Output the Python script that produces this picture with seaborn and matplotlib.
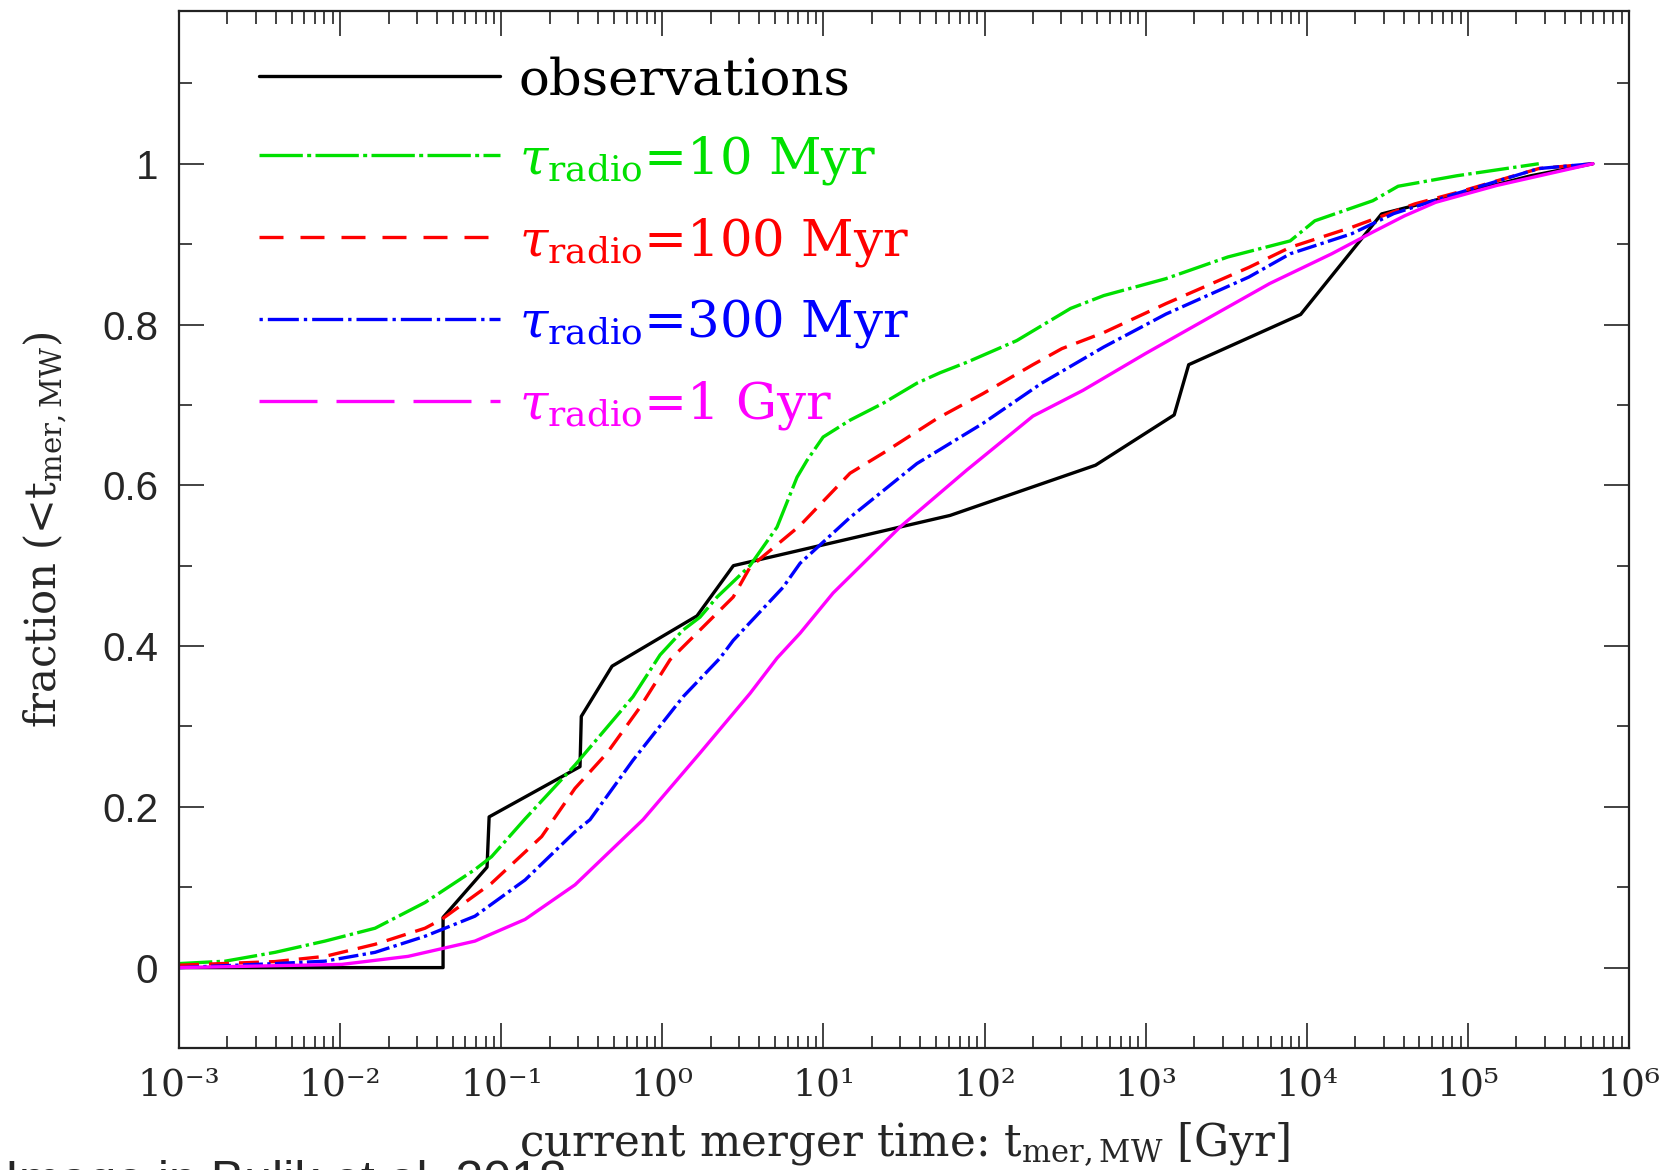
import numpy as np
import matplotlib
matplotlib.use("Agg")
import matplotlib.pyplot as plt
from matplotlib.lines import Line2D
from matplotlib.ticker import LogLocator, MultipleLocator, NullFormatter
import seaborn as sns

# Cumulative fraction vs current merger time.
# x values are stored as log10(t_mer / Gyr)
obs_logt = [-3.0, -1.361, -1.361, -1.088, -1.075, -0.511, -0.503, -0.312, 0.215,
            0.441, 1.786, 2.689, 3.177, 3.267, 3.962, 4.464, 4.59, 5.39, 5.776]
obs_frac = [0.0, 0.0, 0.0625, 0.125, 0.1875, 0.25, 0.3125, 0.375, 0.4375,
            0.5, 0.5625, 0.625, 0.6875, 0.75, 0.8125, 0.9375, 0.944, 0.985, 1.0]

r10_logt = [-3.0, -2.714, -2.404, -2.094, -1.783, -1.473, -1.163, -1.06, -0.852,
            -0.542, -0.182, -0.014, 0.129, 0.234, 0.34, 0.544, 0.712, 0.836, 0.898,
            0.998, 1.165, 1.37, 1.58, 1.724, 1.89, 2.20, 2.534, 2.74, 3.125, 3.51,
            3.897, 4.05, 4.41, 4.567, 4.93, 5.44]
r10_frac = [0.005, 0.008, 0.019, 0.033, 0.049, 0.081, 0.122, 0.138, 0.185,
            0.252, 0.337, 0.389, 0.42, 0.436, 0.461, 0.50, 0.548, 0.61, 0.631,
            0.66, 0.681, 0.702, 0.727, 0.74, 0.753, 0.78, 0.82, 0.836, 0.857, 0.884,
            0.904, 0.929, 0.954, 0.972, 0.985, 1.0]

r100_logt = [-3.0, -2.404, -2.094, -1.783, -1.473, -1.37, -1.06, -0.749, -0.542,
             -0.343, -0.138, 0.048, 0.234, 0.44, 0.544, 0.855, 1.165, 1.37, 1.705,
             1.99, 2.30, 2.48, 2.74, 3.126, 3.64, 3.897, 4.28, 4.67, 4.93, 5.44, 5.776]
r100_frac = [0.003, 0.0075, 0.014, 0.029, 0.049, 0.06, 0.105, 0.163, 0.223,
             0.267, 0.324, 0.383, 0.42, 0.461, 0.498, 0.55, 0.615, 0.64, 0.683,
             0.714, 0.75, 0.77, 0.79, 0.826, 0.871, 0.896, 0.921, 0.950, 0.964, 0.994, 1.0]

r300_logt = [-3.0, -2.404, -2.094, -1.783, -1.473, -1.163, -0.852, -0.542, -0.449,
             -0.182, 0.129, 0.358, 0.44, 0.749, 0.855, 1.165, 1.58, 1.99, 2.354,
             2.74, 3.126, 3.64, 3.897, 4.28, 4.54, 4.93, 5.44, 5.776]
r300_frac = [0.0, 0.005, 0.008, 0.019, 0.039, 0.064, 0.109, 0.169, 0.184,
             0.258, 0.337, 0.385, 0.407, 0.473, 0.503, 0.56, 0.627, 0.677, 0.727,
             0.772, 0.813, 0.859, 0.888, 0.913, 0.938, 0.963, 0.994, 1.0]

r1g_logt = [-3.0, -1.99, -1.578, -1.163, -0.852, -0.542, -0.12, 0.234, 0.544,
            0.712, 0.855, 1.06, 1.475, 1.89, 2.30, 2.61, 3.0, 3.38, 3.77, 4.155,
            4.41, 4.605, 4.80, 5.18, 5.776]
r1g_frac = [0.0, 0.004, 0.014, 0.033, 0.06, 0.103, 0.184, 0.267, 0.341,
            0.385, 0.416, 0.466, 0.548, 0.619, 0.686, 0.718, 0.764, 0.807, 0.851, 0.888,
            0.915, 0.935, 0.952, 0.973, 1.0]

labels = ["observations",
          r"$\tau_{\rm radio}$=10 Myr",
          r"$\tau_{\rm radio}$=100 Myr",
          r"$\tau_{\rm radio}$=300 Myr",
          r"$\tau_{\rm radio}$=1 Gyr"]
colors = ["black", "#00e000", "#ff0000", "#0000ff", "#ff00ff"]

xtick_vals = [1e-3, 1e-2, 1e-1, 1e0, 1e1, 1e2, 1e3, 1e4, 1e5, 1e6]
xtick_labels = ["10⁻³", "10⁻²", "10⁻¹", "10⁰", "10¹", "10²", "10³", "10⁴", "10⁵", "10⁶"]
ytick_vals = [0, 0.2, 0.4, 0.6, 0.8, 1.0]
ytick_labels = ["0", "0.2", "0.4", "0.6", "0.8", "1"]

# line patterns (in linewidth units): plot lines / legend handles
plot_styles = ["-", (0, (10, 1.3, 1, 1.3)), (0, (6, 3)), (0, (6, 1.3, 1, 1.3)), "-"]
legend_styles = ["-", (0, (13, 1.3, 1.2, 1.3)), (0, (7.2, 5.1)),
                 (0, (1, 1.5, 9.3, 1.5)), (0, (17.4, 5.7))]

sns.set_style("ticks")
plt.rcParams["font.family"] = ["DejaVu Serif"]
plt.rcParams["mathtext.fontset"] = "dejavuserif"

fig = plt.figure(figsize=(16.72, 11.70), dpi=100)
ax = fig.add_axes([179 / 1672, 1 - 1048 / 1170, 1450 / 1672, 1037 / 1170])
ax.set_xscale("log")

series = [(obs_logt, obs_frac), (r10_logt, r10_frac), (r100_logt, r100_frac),
          (r300_logt, r300_frac), (r1g_logt, r1g_frac)]
lw = 2.4
for (logt, frac), c, ls in zip(series, colors, plot_styles):
    sns.lineplot(x=10 ** np.array(logt), y=frac, ax=ax, color=c, linestyle=ls,
                 lw=lw, sort=False, estimator=None)

ax.set_xlim(1e-3, 1e6)
ax.set_ylim(-0.1, 1.19)

# ticks
ax.set_xticks(xtick_vals, xtick_labels)
ax.xaxis.set_minor_locator(LogLocator(base=10, subs=np.arange(2, 10), numticks=100))
ax.xaxis.set_minor_formatter(NullFormatter())
ax.set_yticks(ytick_vals, ytick_labels)
ax.yaxis.set_minor_locator(MultipleLocator(0.1))
ax.tick_params(which="both", direction="in", top=True, right=True,
               width=1.2, color="#222222")
ax.tick_params(which="major", length=18)
ax.tick_params(which="minor", length=9)
ax.tick_params(axis="x", labelsize=27, pad=14)
ax.tick_params(axis="y", labelsize=29, pad=15, labelfontfamily="Liberation Sans")
for s in ax.spines.values():
    s.set_linewidth(1.6)
    s.set_color("#222222")

ax.set_xlabel(r"current merger time: t$_{\rm mer,MW}$ [Gyr]", fontsize=31.5, labelpad=12)
ax.set_ylabel(r"fraction (<t$_{\rm mer,MW}$)", fontsize=30, labelpad=23)

handles = [Line2D([], [], color=c, lw=lw, linestyle=ls)
           for c, ls in zip(colors, legend_styles)]
ax.legend(handles, labels, loc="upper left", bbox_to_anchor=(0.055, 0.957),
          frameon=False, fontsize=37, handlelength=4.69, handletextpad=0.37,
          labelspacing=0.56, borderaxespad=0, borderpad=0, labelcolor="linecolor")

fig.text(5 / 1672, 1 - 1160 / 1170, "Image in Bulik et al. 2018", va="top",
         fontsize=36, family="Liberation Sans")

fig.savefig("out.png", dpi=100)
